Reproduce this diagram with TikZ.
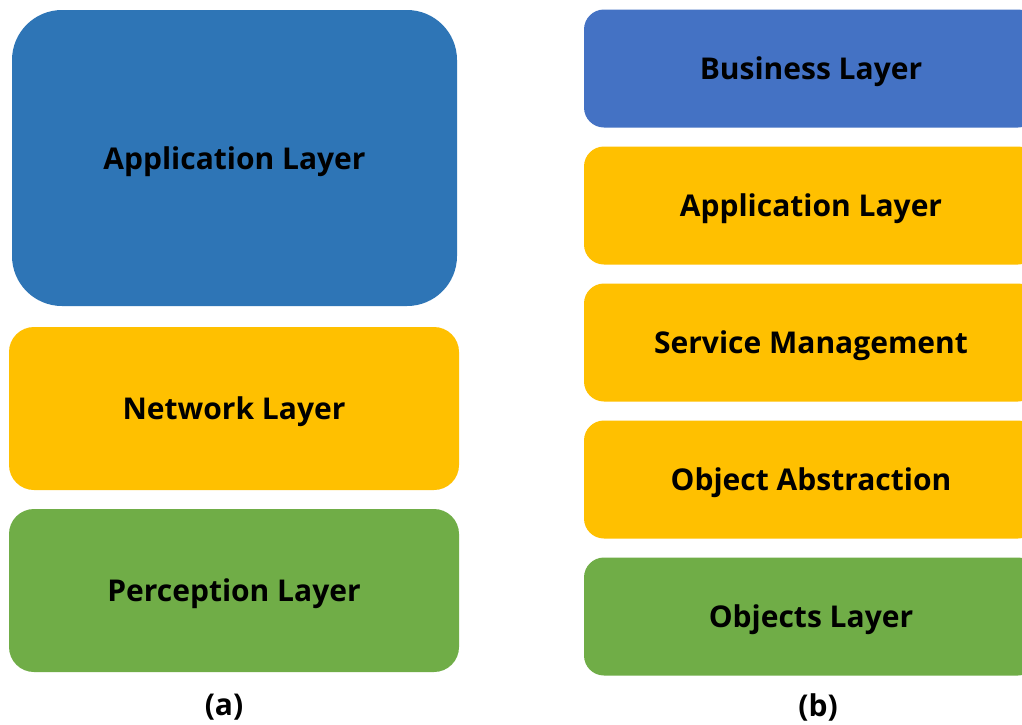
\documentclass[tikz,border=0pt]{standalone}
\usepackage{fontspec}
\setmainfont{Open Sans}
\usepackage{tikz}
\usetikzlibrary{positioning}
\definecolor{appblue}{HTML}{2E75B6}
\definecolor{busblue}{HTML}{4472C4}
\definecolor{netyellow}{HTML}{FFC000}
\definecolor{objgreen}{HTML}{70AD47}
\tikzstyle{layer}=[rectangle,draw=none,rounded corners=25pt,inner sep=0pt,text height=22pt,text depth=0pt,font=\bfseries\fontsize{30}{32}\selectfont]
\tikzstyle{slim}=[layer,minimum width=454pt,minimum height=118pt,rounded corners=20pt]
\tikzstyle{caption}=[font=\bfseries\fontsize{30}{32}\selectfont]

\begin{document}
\begin{tikzpicture}[x=1pt,y=-1pt]
        \clip (0,0) rectangle (1022,724);
        \fill[white] (0,0) rectangle (1022,724);
        % (a)
        \node[layer,fill=appblue,minimum width=445pt,minimum height=296pt,rounded corners=50pt] (app) at (234.5,158) {Application Layer};
        \node[layer,fill=netyellow,minimum width=450pt,minimum height=163pt] (net) at (234,408.5) {Network Layer};
        \node[layer,fill=objgreen,minimum width=450pt,minimum height=163pt] (per) at (234,590.5) {Perception Layer};
        \node[caption] (a) at (224,707) {(a)};
        % (b)
        \node[slim,fill=busblue] (bus) at (811,68.5) {Business Layer};
        \node[slim,fill=netyellow] (bapp) at (811,205.5) {Application Layer};
        \node[slim,fill=netyellow] (srv) at (811,342.5) {Service Management};
        \node[slim,fill=netyellow] (abs) at (811,479.5) {Object Abstraction};
        \node[slim,fill=objgreen] (obj) at (811,616.5) {Objects Layer};
        \node[caption] (b) at (818,707) {(b)};
      \end{tikzpicture}
\end{document}
